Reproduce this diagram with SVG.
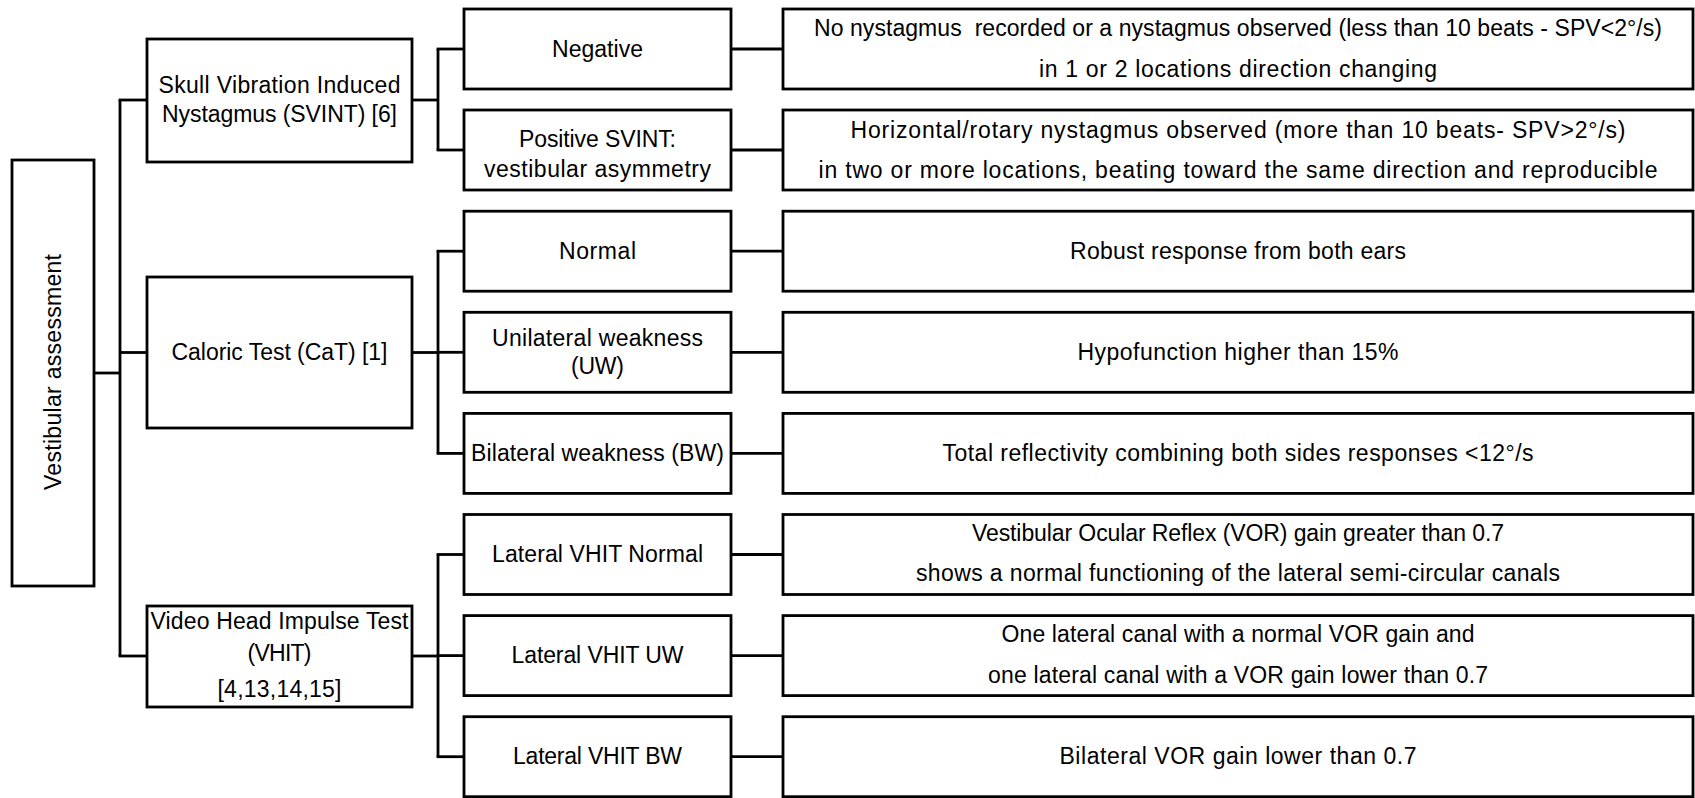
<svg xmlns="http://www.w3.org/2000/svg" width="1695" height="798" viewBox="0 0 1695 798">
<style>
rect{fill:#fff;stroke:#000;stroke-width:2.8}
.c line{stroke:#000;stroke-width:2.8}
text{font-family:"Liberation Sans",Arial,sans-serif;font-size:23px;fill:#000;text-anchor:middle}
</style>
<g class="c" id="connectors">
<line x1="94" y1="373" x2="120" y2="373"/>
<line x1="120" y1="100" x2="120" y2="656"/>
<line x1="118.6" y1="100" x2="147" y2="100"/>
<line x1="120" y1="352.5" x2="147" y2="352.5"/>
<line x1="118.6" y1="656" x2="147" y2="656"/>
<line x1="412" y1="100" x2="438" y2="100"/>
<line x1="438" y1="49" x2="438" y2="150"/>
<line x1="436.6" y1="49" x2="464" y2="49"/>
<line x1="436.6" y1="150" x2="464" y2="150"/>
<line x1="412" y1="352.5" x2="438" y2="352.5"/>
<line x1="438" y1="251.2" x2="438" y2="453.4"/>
<line x1="436.6" y1="251.2" x2="464" y2="251.2"/>
<line x1="438" y1="352.3" x2="464" y2="352.3"/>
<line x1="436.6" y1="453.4" x2="464" y2="453.4"/>
<line x1="412" y1="656" x2="438" y2="656"/>
<line x1="438" y1="554.5" x2="438" y2="756.7"/>
<line x1="436.6" y1="554.5" x2="464" y2="554.5"/>
<line x1="438" y1="655.6" x2="464" y2="655.6"/>
<line x1="436.6" y1="756.7" x2="464" y2="756.7"/>
<line x1="731" y1="49" x2="783" y2="49"/>
<line x1="731" y1="150" x2="783" y2="150"/>
<line x1="731" y1="251.2" x2="783" y2="251.2"/>
<line x1="731" y1="352.3" x2="783" y2="352.3"/>
<line x1="731" y1="453.4" x2="783" y2="453.4"/>
<line x1="731" y1="554.5" x2="783" y2="554.5"/>
<line x1="731" y1="655.6" x2="783" y2="655.6"/>
<line x1="731" y1="756.7" x2="783" y2="756.7"/>
</g>
<g id="root"><rect x="12" y="160" width="82" height="426"/><text transform="translate(61,372) rotate(-90)" textLength="236">Vestibular assessment</text></g>
<g id="svint"><rect x="147" y="39" width="265" height="123"/><text x="279.5" y="93" textLength="242">Skull Vibration Induced</text><text x="279.5" y="122" textLength="235">Nystagmus (SVINT) [6]</text></g>
<g id="cat"><rect x="147" y="277" width="265" height="151"/><text x="279.5" y="360" textLength="216">Caloric Test (CaT) [1]</text></g>
<g id="vhit"><rect x="147" y="606" width="265" height="101"/><text x="279.5" y="629" textLength="258">Video Head Impulse Test</text><text x="279.5" y="661" textLength="64">(VHIT)</text><text x="279.5" y="697" textLength="124">[4,13,14,15]</text></g>
<g id="neg"><rect x="464" y="9" width="267" height="80"/><text x="597.5" y="57" textLength="91">Negative</text></g>
<g id="pos"><rect x="464" y="110" width="267" height="80"/><text x="597.5" y="147" textLength="157">Positive SVINT:</text><text x="597.5" y="177" textLength="227">vestibular asymmetry</text></g>
<g id="normal"><rect x="464" y="211.2" width="267" height="80"/><text x="597.5" y="259" textLength="77">Normal</text></g>
<g id="uw"><rect x="464" y="312.3" width="267" height="80"/><text x="597.5" y="346" textLength="211">Unilateral weakness</text><text x="597.5" y="374" textLength="53">(UW)</text></g>
<g id="bw"><rect x="464" y="413.4" width="267" height="80"/><text x="597.5" y="461" textLength="253">Bilateral weakness (BW)</text></g>
<g id="vn"><rect x="464" y="514.5" width="267" height="80"/><text x="597.5" y="562" textLength="211">Lateral VHIT Normal</text></g>
<g id="vuw"><rect x="464" y="615.6" width="267" height="80"/><text x="597.5" y="663" textLength="172">Lateral VHIT UW</text></g>
<g id="vbw"><rect x="464" y="716.7" width="267" height="80"/><text x="597.5" y="764" textLength="169">Lateral VHIT BW</text></g>
<g id="neg-d"><rect x="783" y="9" width="910" height="80"/><text x="1238" y="36" xml:space="preserve" textLength="848">No nystagmus  recorded or a nystagmus observed (less than 10 beats - SPV&lt;2°/s)</text><text x="1238" y="77" textLength="398">in 1 or 2 locations direction changing</text></g>
<g id="pos-d"><rect x="783" y="110" width="910" height="80"/><text x="1238" y="138" textLength="775">Horizontal/rotary nystagmus observed (more than 10 beats- SPV&gt;2°/s)</text><text x="1238" y="178" textLength="839">in two or more locations, beating toward the same direction and reproducible</text></g>
<g id="normal-d"><rect x="783" y="211.2" width="910" height="80"/><text x="1238" y="259" textLength="336">Robust response from both ears</text></g>
<g id="uw-d"><rect x="783" y="312.3" width="910" height="80"/><text x="1238" y="360" textLength="321">Hypofunction higher than 15%</text></g>
<g id="bw-d"><rect x="783" y="413.4" width="910" height="80"/><text x="1238" y="461" textLength="591">Total reflectivity combining both sides responses &lt;12°/s</text></g>
<g id="vn-d"><rect x="783" y="514.5" width="910" height="80"/><text x="1238" y="541" textLength="532">Vestibular Ocular Reflex (VOR) gain greater than 0.7</text><text x="1238" y="581" textLength="644">shows a normal functioning of the lateral semi-circular canals</text></g>
<g id="vuw-d"><rect x="783" y="615.6" width="910" height="80"/><text x="1238" y="642" textLength="473">One lateral canal with a normal VOR gain and</text><text x="1238" y="683" textLength="500">one lateral canal with a VOR gain lower than 0.7</text></g>
<g id="vbw-d"><rect x="783" y="716.7" width="910" height="80"/><text x="1238" y="764" textLength="357">Bilateral VOR gain lower than 0.7</text></g>
</svg>
